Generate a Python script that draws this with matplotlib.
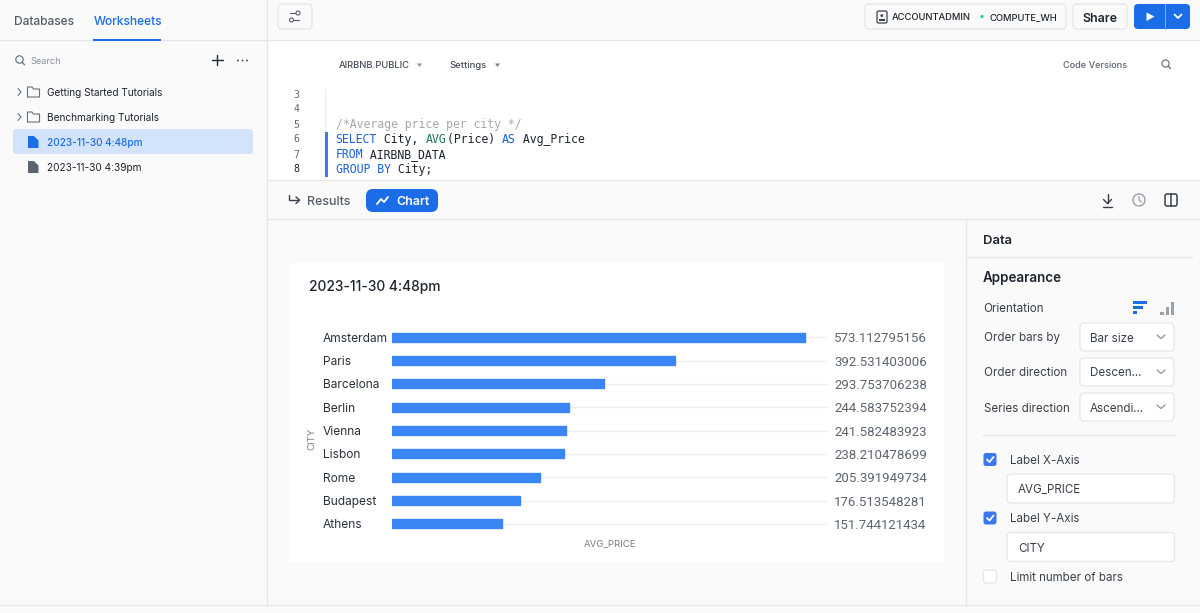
import matplotlib
matplotlib.use("Agg")
import matplotlib.pyplot as plt
from matplotlib.patches import FancyBboxPatch, Rectangle, Circle, Polygon

plt.rcParams['font.family'] = ['Inter', 'DejaVu Sans']

cities = ["Amsterdam", "Paris", "Barcelona", "Berlin", "Vienna", "Lisbon", "Rome", "Budapest", "Athens"]
avg_price = [573.112795156, 392.531403006, 293.753706238, 244.583752394, 241.582483923,
             238.210478699, 205.391949734, 176.513548281, 151.744121434]
chart_title = "2023-11-30 4:48pm"
x_label = "AVG_PRICE"
y_label = "CITY"

BLUE = "#1a6ce7"
BAR = "#3b86f7"
DARK = "#1e252f"
GREY = "#5d6a78"
LINE = "#e4e6e9"
BG = "#fafafa"

fig = plt.figure(figsize=(12, 6.13), dpi=100, facecolor=BG)
ui = fig.add_axes([0, 0, 1, 1], zorder=0)
ui.set_xlim(0, 1200)
ui.set_ylim(613, 0)
ui.axis("off")


def px(v):
    return v * 72 / 100


def rect(x0, y0, x1, y1, fc, ec="none", lw=0, z=1):
    ui.add_patch(Rectangle((x0, y0), x1 - x0, y1 - y0, fc=fc, ec=ec, lw=lw, zorder=z))


def rbox(x0, y0, x1, y1, fc, ec="none", lw=1, r=4, z=2):
    ui.add_patch(FancyBboxPatch((x0 + r, y0 + r), x1 - x0 - 2 * r, y1 - y0 - 2 * r,
                                boxstyle=f"round,pad={r},rounding_size={r}",
                                fc=fc, ec=ec, lw=lw, zorder=z))


def txt(x, y, s, size=12, color=DARK, weight="normal", ha="left", family=None, rot=0, z=5):
    kw = {"family": family} if family else {}
    ui.text(x, y, s, fontsize=px(size), color=color, fontweight=weight, ha=ha,
            va="center_baseline", rotation=rot, zorder=z, **kw)


def seg(pts, color=GREY, lw=1.1, z=5):
    ui.plot([p[0] for p in pts], [p[1] for p in pts], color=color, lw=lw, zorder=z,
            solid_capstyle="round", solid_joinstyle="round")


# ---- panels
rect(268, 41, 1200, 180, "#ffffff")
rect(268, 220, 966, 605, "#fafafa")
rect(290, 263, 944, 562, "#ffffff")
for (a, b, c, d) in [(267, 0, 267, 605), (268, 40, 1200, 40), (268, 180, 1200, 180),
                     (268, 219, 1200, 219), (966, 220, 966, 605), (0, 605, 1200, 605),
                     (0, 40, 267, 40), (967, 257, 1192, 257), (983, 435, 1175, 435)]:
    ui.plot([a, c], [b, d], color=LINE, lw=0.9, zorder=1.5)

# ---- sidebar
txt(14, 20.5, "Databases", 12, "#545d69", "medium")
txt(93.5, 20.5, "Worksheets", 12, BLUE, "medium")
rect(93, 39, 161, 41, BLUE, z=3)
ui.add_patch(Circle((19.5, 59.5), 3.7, fc="none", ec=GREY, lw=0.8, zorder=5))
seg([(22.3, 62.3), (24.5, 64.8)], lw=0.9)
txt(30, 60.5, "Search", 9.2, "#8a939e")
seg([(212, 60), (222.5, 60)], DARK, 1.0)
seg([(217.2, 55), (217.2, 65)], DARK, 1.0)
for xx in (238, 242.5, 247):
    ui.add_patch(Circle((xx, 60.5), 0.95, fc="#444c57", ec="none", zorder=5))
rbox(13, 129, 253, 154, "#d3e3fb", r=4)
tree = [(92, "Getting Started Tutorials", DARK, "normal"), (117, "Benchmarking Tutorials", DARK, "normal"),
        (142, "2023-11-30 4:48pm", BLUE, "medium"), (167, "2023-11-30 4:39pm", DARK, "normal")]
for y, s, c, w in tree:
    txt(47, y, s, 10.05, c, w)
for y in (92, 117):
    seg([(18, y - 3.5), (21, y), (18, y + 3.5)], "#68727e", 0.8)
    seg([(27.5, y + 5), (27.5, y - 5), (32, y - 5), (33.5, y - 3), (39.5, y - 3), (39.5, y + 5), (27.5, y + 5)],
        "#68727e", 0.8)
for y, c in ((142, BLUE), (167, "#5b6470")):
    ui.add_patch(Polygon([(28, y - 6), (34, y - 6), (38.5, y - 1.5), (38.5, y + 6), (28, y + 6)],
                         fc=c, ec="none", zorder=5))

# ---- toolbar
rbox(278, 4, 312, 29, "#fafafa", LINE, 0.9, r=4)
seg([(290, 13), (299, 13)], "#545d69", 0.8)
seg([(290, 20), (299, 20)], "#545d69", 0.8)
ui.add_patch(Circle((298, 13), 2, fc="#fafafa", ec="#545d69", lw=0.8, zorder=6))
ui.add_patch(Circle((291.5, 20), 2, fc="#fafafa", ec="#545d69", lw=0.8, zorder=6))
rbox(865, 4, 1066, 29, "#fafafa", LINE, 0.9, r=4)
rbox(877, 11, 887, 23, "none", "#39414c", 0.9, r=1.5, z=5)
ui.add_patch(Circle((881.8, 15.6), 1.4, fc="#39414c", ec="none", zorder=5))
rect(878.8, 18.8, 885, 20.6, "#39414c", z=5)
txt(892, 16.8, "ACCOUNTADMIN", 9.4, DARK, "medium")
ui.add_patch(Circle((982, 16.5), 1.6, fc="#1fd39a", ec="none", zorder=5))
txt(989, 16.8, "COMPUTE_WH", 9.4, DARK, "medium")
rbox(1073, 4, 1127, 29, "#fafafa", LINE, 0.9, r=4)
txt(1100, 17, "Share", 12.4, DARK, "semibold", ha="center")
rbox(1134, 4, 1190, 29, BLUE, r=4)
ui.plot([1165, 1165], [4, 29], color="#7fb0f5", lw=0.7, zorder=4)
ui.add_patch(Polygon([(1146.5, 12.5), (1154.5, 16.5), (1146.5, 21)], fc="white", ec="none", zorder=5))
seg([(1174.5, 14.5), (1178, 18), (1181.5, 14.5)], "white", 1.3)

# ---- editor
txt(339, 65, "AIRBNB.PUBLIC", 9.4, "#454e5a", "medium")
ui.add_patch(Polygon([(417, 63.5), (422, 63.5), (419.5, 67)], fc="#8a939e", ec="none", zorder=5))
txt(449.5, 65, "Settings", 9.5, "#454e5a", "medium")
ui.add_patch(Polygon([(495, 63.5), (500, 63.5), (497.5, 67)], fc="#7a838e", ec="none", zorder=5))
txt(1063, 65, "Code Versions", 9.2, "#5d6570", "medium")
ui.add_patch(Circle((1165.5, 63.5), 3.6, fc="none", ec=GREY, lw=0.8, zorder=5))
seg([(1168.2, 66.2), (1170.5, 68.6)], lw=0.9)

MONO = "DejaVu Sans Mono"
for n, y in zip(range(3, 9), (94, 108.5, 123.5, 138.5, 153.5, 168.5)):
    txt(296.5, y, str(n), 10, "#1e252f" if n == 8 else "#5f6874", "medium" if n == 8 else "normal",
        ha="center", family=MONO)
ui.plot([324.5, 324.5], [90, 131], color="#eeeeee", lw=0.8, zorder=2)
rect(325, 132, 328, 177, "#3a78ee", z=3)
CW = 6.945
code = [
    (122.7, [("/*Average price per city */", "#a4a8ad")]),
    (137.7, [("SELECT", "#1a5fd6"), (" City, ", DARK), ("AVG", "#1a7a50"), ("(Price) ", DARK), ("AS", "#1a5fd6"),
             (" Avg_Price", DARK)]),
    (152.7, [("FROM", "#1a5fd6"), (" AIRBNB_DATA", DARK)]),
    (167.7, [("GROUP BY", "#1a5fd6"), (" City;", DARK)]),
]
for y, parts in code:
    i = 0
    for s, c in parts:
        txt(335.5 + i * CW, y, s, 11.55, c, family=MONO)
        i += len(s)

# ---- results bar
seg([(289, 195), (289, 200), (299, 200)], "#39414c", 1.0)
seg([(296, 197), (299.5, 200), (296, 203.5)], "#39414c", 1.0)
txt(307.5, 200.5, "Results", 12.4, "#545d69", "medium")
rbox(366, 189, 438, 212, BLUE, r=7)
seg([(377, 204), (381, 199), (384, 202), (388, 197)], "white", 1.3)
txt(396, 200.5, "Chart", 12.4, "white", "semibold")
seg([(1107.5, 194), (1107.5, 203)], "#333b46", 1.0)
seg([(1103.5, 199.5), (1107.5, 203.5), (1111.5, 199.5)], "#333b46", 1.0)
seg([(1103, 206.5), (1112, 206.5)], "#333b46", 1.0)
ui.add_patch(Circle((1139, 200), 6, fc="none", ec="#9aa1a9", lw=1.0, zorder=5))
seg([(1139, 196.5), (1139, 200), (1141.5, 202)], "#9aa1a9", 0.9)
rbox(1165, 194, 1177, 206, "none", "#39414c", 1.1, r=2, z=5)
ui.plot([1171, 1171], [194, 206], color="#39414c", lw=1.1, zorder=5)

# ---- right panel
txt(983, 239, "Data", 13, DARK, "semibold")
txt(983, 276.3, "Appearance", 13.4, DARK, "semibold")
labels = [(308, "Orientation"), (337, "Order bars by"), (372, "Order direction"), (407, "Series direction")]
for y, s in labels:
    txt(983.5, y, s, 11.6, "#39414c")
for y0, s in ((323, "Bar size"), (358, "Descen..."), (393, "Ascendi...")):
    rbox(1080, y0, 1174, y0 + 28, "#ffffff", LINE, 0.9, r=4)
    txt(1090, y0 + 14, s, 11.6, "#39414c")
    seg([(1157, y0 + 12), (1161, y0 + 15.5), (1165, y0 + 12)], "#8a939e", 0.9)
for y0, w in ((301, 14), (306, 10), (311, 4)):
    rect(1133, y0, 1133 + w, y0 + 3, BLUE, z=5)
for x0, h in ((1160, 3), (1165.5, 7.5), (1170.5, 13)):
    rect(x0, 314.5 - h, x0 + 3.5, 314.5, "#9aa1a9", z=5)
for y, s in ((459.5, "Label X-Axis"), (518, "Label Y-Axis")):
    rbox(983.5, y - 6.5, 996.5, y + 6.5, "#3a78ee", r=2.5)
    seg([(987, y), (989.5, y + 2.5), (993.5, y - 2.5)], "white", 1.3)
    txt(1010, y, s, 11.6, "#39414c")
for y0, s in ((474, "AVG_PRICE"), (532.5, "CITY")):
    rbox(1007, y0, 1174.5, y0 + 29, "#ffffff", LINE, 0.9, r=4)
    txt(1018, y0 + 15, s, 11.6, "#39414c")
rbox(983.5, 570, 996.5, 583, "#ffffff", LINE, 0.9, r=2.5)
txt(1010, 576.5, "Limit number of bars", 11.6, "#39414c")

# ---- chart card
txt(309, 285.5, chart_title, 13.8, DARK, "medium")

ax = fig.add_axes([392.3 / 1200, 1 - 535.5 / 613, (827 - 392.3) / 1200, 210 / 613], zorder=2)
ax.patch.set_alpha(0)
positions = list(range(len(cities)))
ax.set_xlim(0, 603)
ax.set_ylim(len(cities) - 0.5, -0.5)
ax.hlines(positions, 0, 603, color="#edeef0", lw=0.9, zorder=1)
ax.barh(positions, avg_price, height=0.38, color=BAR, edgecolor=BAR, linewidth=1.0,
        joinstyle="round", zorder=2)
ax.set_yticks(positions)
ax.set_yticklabels(cities, fontsize=px(12), color="#2a323d", ha="left")
ax.tick_params(axis="y", length=0, pad=49.9)
ax.set_xticks([])
for s in ax.spines.values():
    s.set_visible(False)
for p, v in zip(positions, avg_price):
    ax.annotate(f"{v:.9f}", (603, p), xytext=(5, 0), textcoords="offset points",
                ha="left", va="center_baseline", fontsize=px(13.3), color="#5d6570",
                family="Roboto", annotation_clip=False)
txt(610, 542.5, x_label, 9.6, "#767d87", ha="center")
txt(312, 431, y_label, 9.6, "#767d87", ha="center", rot=90)

fig.savefig("out.png", dpi=100, facecolor=fig.get_facecolor())
